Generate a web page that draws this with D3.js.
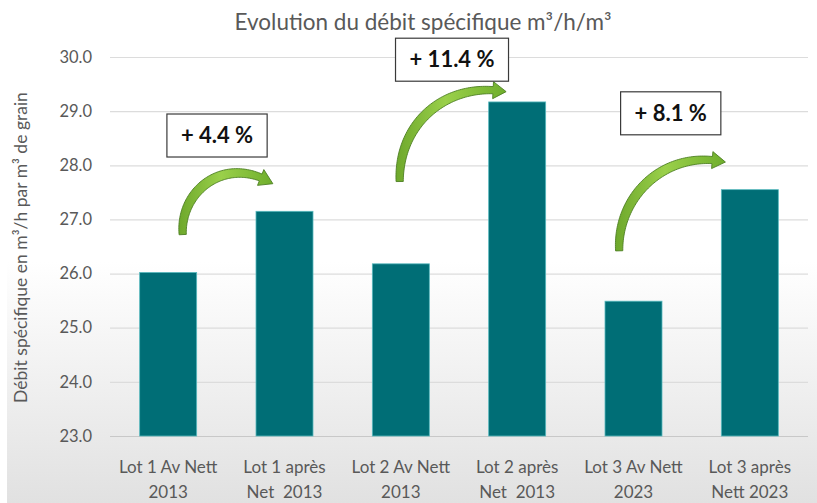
<!DOCTYPE html>
<html><head><meta charset="utf-8">
<script src="https://cdn.jsdelivr.net/npm/d3@7"></script>
<style>
html,body{margin:0;padding:0;background:#fff;}
svg{display:block;}
text{font-family:Lato,"Open Sans",sans-serif;}
</style></head>
<body>
<svg id="chart" width="817" height="503"></svg>
<script>
// ---- data ----
const categories = [
  ["Lot 1 Av Nett", "2013"],
  ["Lot 1 après", "Net  2013"],
  ["Lot 2 Av Nett", "2013"],
  ["Lot 2 après", "Net  2013"],
  ["Lot 3 Av Nett", "2023"],
  ["Lot 3 après", "Nett 2023"]
];
const values = [26.02, 27.15, 26.18, 29.17, 25.49, 27.55];
const yTicks = [23, 24, 25, 26, 27, 28, 29, 30];
const yDomain = [23, 30];
const title = "Evolution du débit spécifique m³/h/m³";
const yTitle = "Débit spécifique en m³/h par m³ de grain";
// annotations: label, box centre (category index, value)
const annLabels = ["+ 4.4 %", "+ 11.4 %", "+ 8.1 %"];
const annBoxPos = [[0.42, 28.55], [2.44, 29.95], [4.32, 28.96]];
// arrows: cubic curves in (category index, value) units
const arrowCurves = [
  [[0.125, 26.72], [0.10, 27.55], [0.50, 28.20], [0.90, 27.66]],
  [[1.99, 27.70], [1.98, 28.80], [2.40, 29.55], [2.905, 29.36]],
  [[3.877, 26.42], [3.86, 27.45], [4.28, 28.30], [4.79, 28.06]]
];

// ---- layout ----
const W = 817, H = 503;
const m = {left: 110, right: 9, top: 57, bottom: 67};
const svg = d3.select("#chart");
const defs = svg.append("defs");

const bg = defs.append("linearGradient").attr("id","bg").attr("x1",0).attr("y1",0).attr("x2",0).attr("y2",1);
bg.append("stop").attr("offset","0%").attr("stop-color","#ffffff");
bg.append("stop").attr("offset","52%").attr("stop-color","#ffffff");
bg.append("stop").attr("offset","100%").attr("stop-color","#e1e1e1");
svg.append("rect").attr("x",7).attr("y",0).attr("width",W-7).attr("height",H).attr("fill","url(#bg)");

const x = d3.scaleBand().domain(d3.range(categories.length)).range([m.left, W - m.right]).paddingInner(0.51).paddingOuter(0.255);
const xi = d3.scaleLinear().domain([0, categories.length - 1]).range([x(0) + x.bandwidth()/2, x(categories.length-1) + x.bandwidth()/2]);
const y = d3.scaleLinear().domain(yDomain).range([H - m.bottom, m.top]);

// gridlines
const grid = svg.append("g").attr("transform", `translate(${m.left},0)`)
  .call(d3.axisLeft(y).tickValues(yTicks).tickSize(-(W - m.left - m.right)).tickFormat(""));
grid.select(".domain").remove();
grid.selectAll("line").attr("stroke", d => d === yDomain[0] ? "#c8c8c8" : "#dcdcdc").attr("stroke-width", 1.2);

// y tick labels
const ya = svg.append("g").attr("transform", `translate(${m.left - 18},0)`)
  .call(d3.axisLeft(y).tickValues(yTicks).tickSize(0).tickPadding(0).tickFormat(d3.format(".1f")));
ya.select(".domain").remove();
ya.selectAll("text").attr("fill","#595959").style("font-size","16.5px").style("font-family","Lato,sans-serif");

// bars
svg.append("g").selectAll("rect").data(values).join("rect")
  .attr("x", (d,i) => x(i)).attr("width", x.bandwidth())
  .attr("y", d => y(d)).attr("height", d => y(yDomain[0]) - y(d))
  .attr("fill", "#006e76").attr("stroke","#58b9be").attr("stroke-width",0.8);

// x labels
const xl = svg.append("g");
categories.forEach((c,i) => {
  const t = xl.append("text").attr("text-anchor","middle").attr("fill","#595959")
    .style("font-size","17px").style("white-space","pre").attr("xml:space","preserve");
  t.append("tspan").attr("x", x(i) + x.bandwidth()/2).attr("y", H - 30).text(c[0]);
  t.append("tspan").attr("x", x(i) + x.bandwidth()/2).attr("y", H - 5).text(c[1]);
});

// title
svg.append("text").attr("x", 423).attr("y", 30).attr("text-anchor","middle")
  .attr("fill","#595959").style("font-size","22.5px").text(title);

// y title
svg.append("text").attr("transform", `translate(27,${(y(yDomain[0]) + y(yDomain[1]))/2 + 1}) rotate(-90)`)
  .attr("text-anchor","middle").attr("fill","#595959").style("font-size","17.5px").text(yTitle);

// arrows
const ag = defs.append("linearGradient").attr("id","ag").attr("x1",0).attr("y1",0).attr("x2",1).attr("y2",0);
ag.append("stop").attr("offset","0%").attr("stop-color","#6ea82c");
ag.append("stop").attr("offset","45%").attr("stop-color","#9ad04a");
ag.append("stop").attr("offset","100%").attr("stop-color","#6fae2c");

function bez(p, t){
  const u = 1 - t;
  return [u*u*u*p[0][0] + 3*u*u*t*p[1][0] + 3*u*t*t*p[2][0] + t*t*t*p[3][0],
          u*u*u*p[0][1] + 3*u*u*t*p[1][1] + 3*u*t*t*p[2][1] + t*t*t*p[3][1]];
}
arrowCurves.forEach(cv => {
  const P = cv.map(d => [xi(d[0]), y(d[1])]);
  const N = 80;
  const pts = d3.range(N+1).map(k => bez(P, k/N));
  const len = [0];
  for (let k=1;k<=N;k++) len.push(len[k-1] + Math.hypot(pts[k][0]-pts[k-1][0], pts[k][1]-pts[k-1][1]));
  const total = len[N];
  const headLen = 13;
  let kb = N; while (kb > 0 && total - len[kb] < headLen) kb--;
  const left = [], right = [];
  for (let k=0;k<=kb;k++){
    const a = pts[Math.max(0,k-1)], b = pts[Math.min(N,k+1)];
    let dx = b[0]-a[0], dy = b[1]-a[1]; const L = Math.hypot(dx,dy); dx/=L; dy/=L;
    const f = len[k]/total;
    const w = 3.6 + 1.2 * Math.sin(Math.PI * Math.min(1, f*1.1));
    left.push([pts[k][0] - dy*w, pts[k][1] + dx*w]);
    right.push([pts[k][0] + dy*w, pts[k][1] - dx*w]);
  }
  const a = pts[kb-1], b = pts[kb+1];
  let dx = b[0]-a[0], dy = b[1]-a[1]; const L = Math.hypot(dx,dy); dx/=L; dy/=L;
  const hw = 8.5;
  const hl = [pts[kb][0] - dy*hw, pts[kb][1] + dx*hw];
  const hr = [pts[kb][0] + dy*hw, pts[kb][1] - dx*hw];
  const poly = left.concat([hl, P[3], hr]).concat(right.slice().reverse());
  svg.append("path").attr("d", "M" + poly.map(p => p.join(",")).join("L") + "Z")
    .attr("fill","url(#ag)").attr("stroke","#4d7f22").attr("stroke-width",0.9).attr("stroke-linejoin","round");
});

// annotation boxes
annLabels.forEach((lab,i) => {
  const cx = xi(annBoxPos[i][0]), cy = y(annBoxPos[i][1]);
  const g = svg.append("g");
  const r = g.append("rect").attr("fill","#fff").attr("stroke","#3a3a3a").attr("stroke-width",1.2);
  const t = g.append("text").attr("x", cx).attr("y", cy + 7.5).attr("text-anchor","middle")
    .attr("fill","#111").style("font-size","22px").style("font-weight","700").text(lab);
  const bb = t.node().getBBox();
  const bw = bb.width + 28, bh = 43;
  r.attr("x", cx - bw/2).attr("y", cy - bh/2).attr("width", bw).attr("height", bh);
});
</script>
</body></html>
